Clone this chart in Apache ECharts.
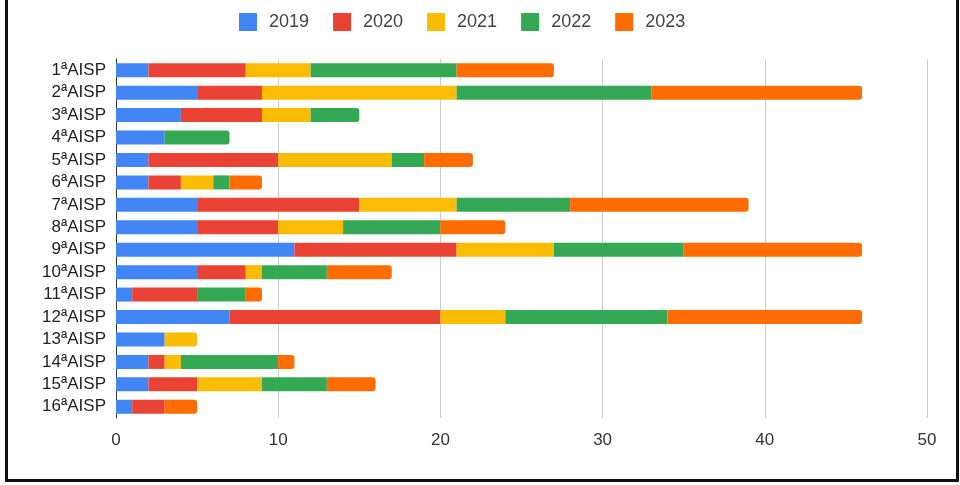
<!DOCTYPE html>
<html>
<head>
<meta charset="utf-8">
<script src="https://cdn.jsdelivr.net/npm/echarts@6/dist/echarts.min.js"></script>
<style>
  html, body { margin: 0; padding: 0; background: #fff; }
  #chart { position: absolute; left: 0; top: 0; width: 960px; height: 485px; }
  #frame {
    position: absolute; left: 5px; top: 0; width: 948px; height: 479px;
    border-left: 3px solid #111; border-right: 3px solid #111; border-bottom: 3px solid #111;
    pointer-events: none;
  }
</style>
</head>
<body>
<div id="chart"></div>
<div id="frame"></div>
<script>
var categories = ['1ªAISP', '2ªAISP', '3ªAISP', '4ªAISP', '5ªAISP', '6ªAISP', '7ªAISP', '8ªAISP',
                  '9ªAISP', '10ªAISP', '11ªAISP', '12ªAISP', '13ªAISP', '14ªAISP', '15ªAISP', '16ªAISP'];
var years = ['2019', '2020', '2021', '2022', '2023'];
var v2019 = [2, 5, 4, 3, 2, 2, 5, 5, 11, 5, 1, 7, 3, 2, 2, 1];
var v2020 = [6, 4, 5, 0, 8, 2, 10, 5, 10, 3, 4, 13, 0, 1, 3, 2];
var v2021 = [4, 12, 3, 0, 7, 2, 6, 4, 6, 1, 0, 4, 2, 1, 4, 0];
var v2022 = [9, 12, 3, 4, 2, 1, 7, 6, 8, 4, 3, 10, 0, 6, 4, 0];
var v2023 = [6, 13, 0, 0, 3, 2, 11, 4, 11, 4, 1, 12, 0, 1, 3, 2];
var xTicks = [0, 10, 20, 30, 40, 50];

var colors = ['#4285f4', '#ea4335', '#fbbc04', '#34a853', '#ff6d01'];
var values = [v2019, v2020, v2021, v2022, v2023];

// round the right end of each row's last non-empty segment
function lastIndexFor(row) {
  var last = -1;
  for (var s = 0; s < values.length; s++) {
    if (values[s][row] > 0) last = s;
  }
  return last;
}

var series = years.map(function (year, s) {
  return {
    name: year,
    type: 'bar',
    stack: 'total',
    barWidth: 14,
    itemStyle: { color: colors[s] },
    data: values[s].map(function (v, row) {
      if (lastIndexFor(row) === s) {
        return { value: v, itemStyle: { borderRadius: [0, 3, 3, 0] } };
      }
      return v;
    })
  };
});

var chart = echarts.init(document.getElementById('chart'));
chart.setOption({
  backgroundColor: '#fff',
  animation: false,
  textStyle: { fontFamily: 'Liberation Sans, Arial, sans-serif' },
  legend: {
    data: years,
    top: 13,
    left: 239,
    padding: 0,
    itemWidth: 18,
    itemHeight: 18,
    itemGap: 24,
    icon: 'rect',
    textStyle: { color: '#444', fontSize: 18, padding: [0, 0, 0, 7] }
  },
  grid: { left: 116, right: 33, top: 59, bottom: 67 },
  xAxis: {
    type: 'value',
    min: 0,
    max: 50,
    interval: 10,
    axisLine: { show: false },
    axisTick: { show: false },
    axisLabel: {
      color: '#333', fontSize: 17, margin: 14,
      formatter: function (v) { return xTicks.indexOf(v) >= 0 ? String(v) : ''; }
    },
    splitLine: { lineStyle: { color: '#cccccc', width: 1 } }
  },
  yAxis: {
    type: 'category',
    data: categories,
    inverse: true,
    axisLine: { lineStyle: { color: '#333', width: 1 } },
    axisTick: { show: false },
    axisLabel: { color: '#222', fontSize: 17, margin: 10 }
  },
  series: series
});
</script>
</body>
</html>
